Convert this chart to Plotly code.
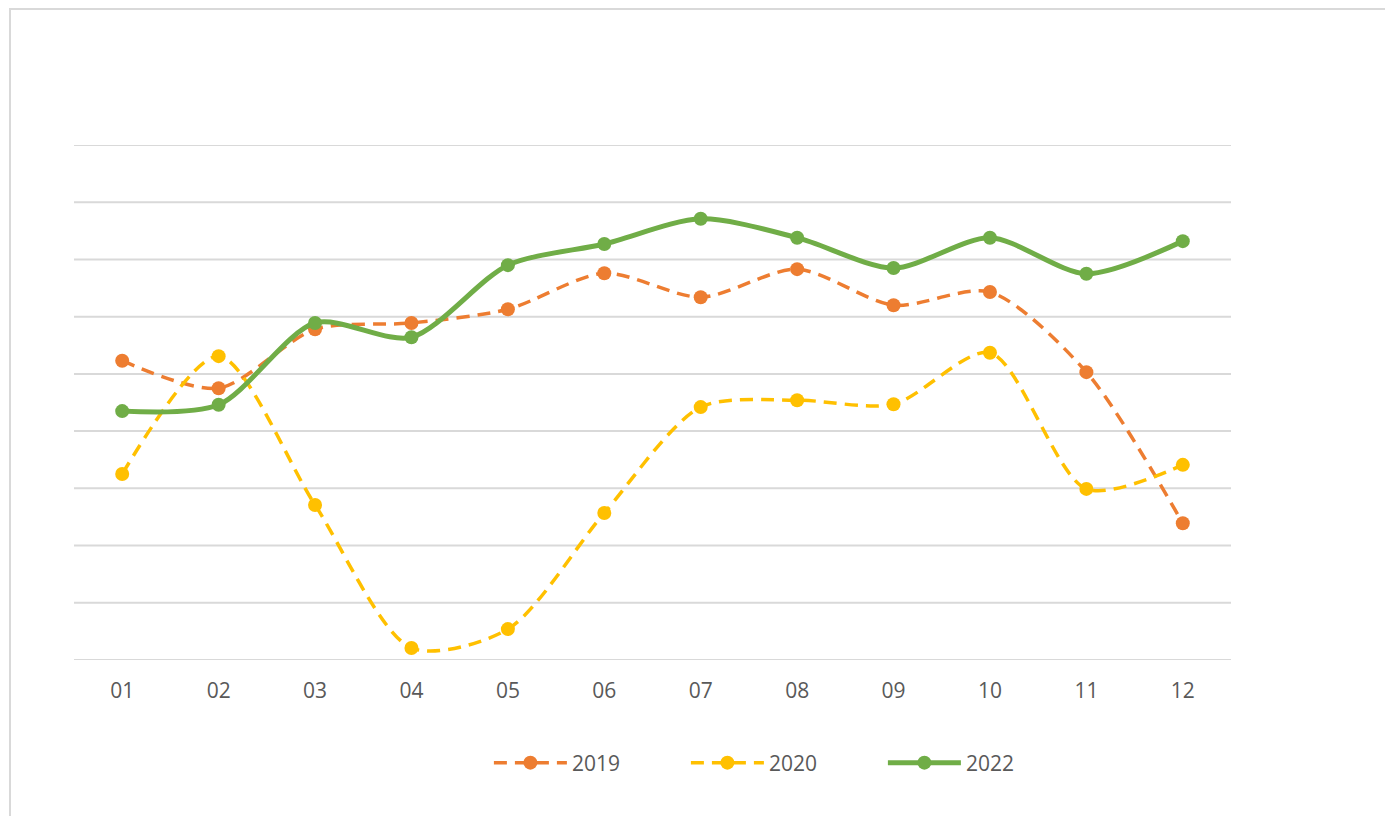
import plotly.graph_objects as go

months = ["01", "02", "03", "04", "05", "06", "07", "08", "09", "10", "11", "12"]
s2019 = [52.3, 47.5, 57.8, 58.9, 61.3, 67.6, 63.4, 68.3, 62.0, 64.3, 50.3, 23.9]
s2020 = [32.5, 53.1, 27.1, 2.1, 5.4, 25.7, 44.2, 45.4, 44.7, 53.7, 29.9, 34.1]
s2022 = [43.5, 44.6, 58.9, 56.4, 69.0, 72.7, 77.1, 73.8, 68.5, 73.8, 67.5, 73.2]
gridvals = [0, 10, 20, 30, 40, 50, 60, 70, 80, 90]

# page has 8px body margin; figure coords = page coords - 8
L, T = 66, 137
PW, PH = 1157, 515

fig = go.Figure()
fig.add_trace(go.Scatter(x=months, y=s2019, name="2019", mode="lines+markers",
                         line=dict(color="#ED7D31", width=3.5, dash="13px,8px", shape="spline", smoothing=0.8),
                         marker=dict(size=14, color="#ED7D31")))
fig.add_trace(go.Scatter(x=months, y=s2020, name="2020", mode="lines+markers",
                         line=dict(color="#FFC000", width=3.5, dash="13px,8px", shape="spline", smoothing=0.8),
                         marker=dict(size=14, color="#FFC000")))
fig.add_trace(go.Scatter(x=months, y=s2022, name="2022", mode="lines+markers",
                         line=dict(color="#70AD47", width=5, shape="spline", smoothing=0.8),
                         marker=dict(size=14, color="#70AD47")))

shapes = [dict(type="line", xref="paper", yref="y", x0=0, x1=1, y0=g, y1=g,
               line=dict(color="#D9D9D9", width=2), layer="below") for g in gridvals]
shapes.append(dict(type="rect", xref="paper", yref="paper",
                   x0=(2 - L) / PW, x1=2, y0=-0.5, y1=(T + PH - 1) / PH,
                   line=dict(color="#D9D9D9", width=2), fillcolor="rgba(0,0,0,0)", layer="below"))

fig.update_layout(
    width=1393, height=816,
    margin=dict(l=L, r=1393 - L - PW, t=T, b=816 - T - PH),
    paper_bgcolor="white", plot_bgcolor="white",
    font=dict(family="Open Sans", size=21, color="#595959"),
    showlegend=True,
    legend=dict(orientation="h", x=0.614, xanchor="center", y=-0.2, yanchor="middle",
                itemwidth=73, entrywidth=109, font=dict(family="Open Sans", size=21, color="#595959")),
    xaxis=dict(type="category", range=[-0.5, 11.5], showgrid=False, zeroline=False,
               showline=False, ticks="", ticklabelstandoff=16,
               tickfont=dict(family="Open Sans", size=21, color="#595959")),
    yaxis=dict(range=[0, 90], showgrid=False, showticklabels=False, zeroline=False, showline=False),
    shapes=shapes,
)

fig.write_html("out.html")
